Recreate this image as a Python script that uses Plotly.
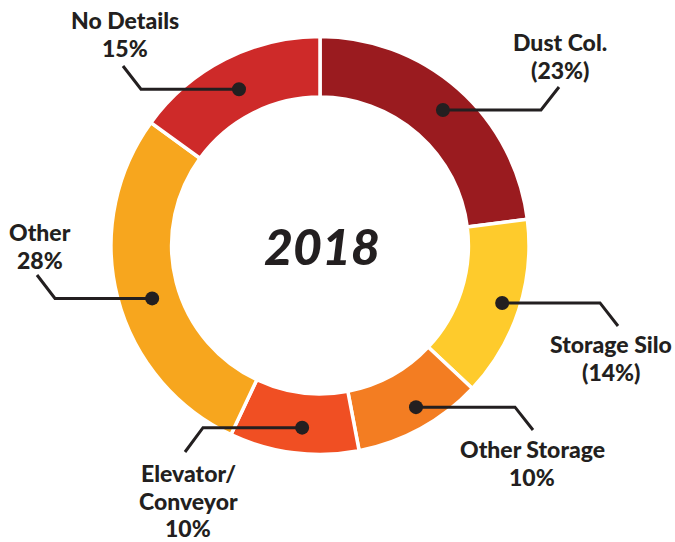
import math
import plotly.graph_objects as go

# ---- data ----
categories = ["Dust Col.", "Storage Silo", "Other Storage", "Elevator/<br>Conveyor", "Other", "No Details"]
values = [23, 14, 10, 10, 28, 15]
paren_style = [True, True, False, False, False, False]
center_title = "2018"

# ---- styles / layout ----
colors = ["#9A1B1F", "#FECB2C", "#F37D22", "#F04F23", "#F7A61E", "#CE2A29"]
W, H = 675, 542
CX, CY, R = 320, 245.5, 209
HOLE = 0.71
TEXT_COLOR = "#231F20"
FONT = "Lato"
LABEL_SIZE = 23

# leader routing (pixel positions): elbow x, label-end x, label-end y
elbow_x = [541, 600, 515, 203, 55, 141]
end_pts = [(559, 87), (618, 326), (533, 430), (185, 452), (37, 275), (123, 66)]
dot_radius = [183, 191, 188, 183, 176, 176]
dot_angle_shift = [0.8, -0.5, -1.9, -1.6, -3.1, -0.4]  # degrees
# label block positions (pixel): center x, first baseline y
label_pos = [(560, 51), (611, 353), (532, 458), (188, 482), (40, 241), (125, 29)]
LINE_STEP = 27.5


def px(x):
    return x / W


def py(y):
    return 1 - y / H


fig = go.Figure()
fig.add_trace(go.Pie(
    labels=categories,
    values=values,
    hole=HOLE,
    sort=False,
    direction="clockwise",
    rotation=0,
    textinfo="none",
    hoverinfo="label+percent",
    marker=dict(colors=colors, line=dict(color="white", width=3.5)),
    domain=dict(x=[px(CX - R), px(CX + R)], y=[py(CY + R), py(CY - R)]),
    showlegend=False,
))

total = sum(values)
shapes = []
annotations = []
cum = 0
for i, (cat, v) in enumerate(zip(categories, values)):
    mid = (cum + v / 2) / total * 2 * math.pi + math.radians(dot_angle_shift[i])
    cum += v
    r = dot_radius[i]
    dx = CX + r * math.sin(mid)
    dy = CY - r * math.cos(mid)
    ex, ey = end_pts[i]
    path = f"M {px(dx)},{py(dy)} L {px(elbow_x[i])},{py(dy)} L {px(ex)},{py(ey)}"
    shapes.append(dict(type="path", xref="paper", yref="paper", path=path,
                       line=dict(color=TEXT_COLOR, width=3), layer="above"))
    dr = 7
    shapes.append(dict(type="circle", xref="paper", yref="paper",
                       x0=px(dx - dr), x1=px(dx + dr), y0=py(dy + dr), y1=py(dy - dr),
                       fillcolor=TEXT_COLOR, line=dict(color=TEXT_COLOR, width=0), layer="above"))
    pct = round(v / total * 100)
    lines = cat.split("<br>") + [f"({pct}%)" if paren_style[i] else f"{pct}%"]
    lx, base = label_pos[i]
    for j, line in enumerate(lines):
        b = base + j * LINE_STEP
        annotations.append(dict(x=px(lx), y=py(b - 0.387 * LABEL_SIZE), xref="paper", yref="paper",
                                xanchor="center", yanchor="middle", showarrow=False,
                                text=line, align="center", borderpad=0,
                                font=dict(family=FONT, size=LABEL_SIZE, color=TEXT_COLOR, weight=900)))

annotations.append(dict(x=px(321.5), y=py(246), xref="paper", yref="paper",
                        xanchor="center", yanchor="middle", showarrow=False,
                        text=center_title, borderpad=0,
                        font=dict(family=FONT, size=50, color=TEXT_COLOR, weight=900, style="italic")))

fig.update_layout(
    width=W, height=H,
    margin=dict(l=0, r=0, t=0, b=0),
    paper_bgcolor="white",
    plot_bgcolor="white",
    shapes=shapes,
    annotations=annotations,
)

fig.write_html("out.html", config={"displayModeBar": False},
               post_script="document.body.style.margin='0';")
